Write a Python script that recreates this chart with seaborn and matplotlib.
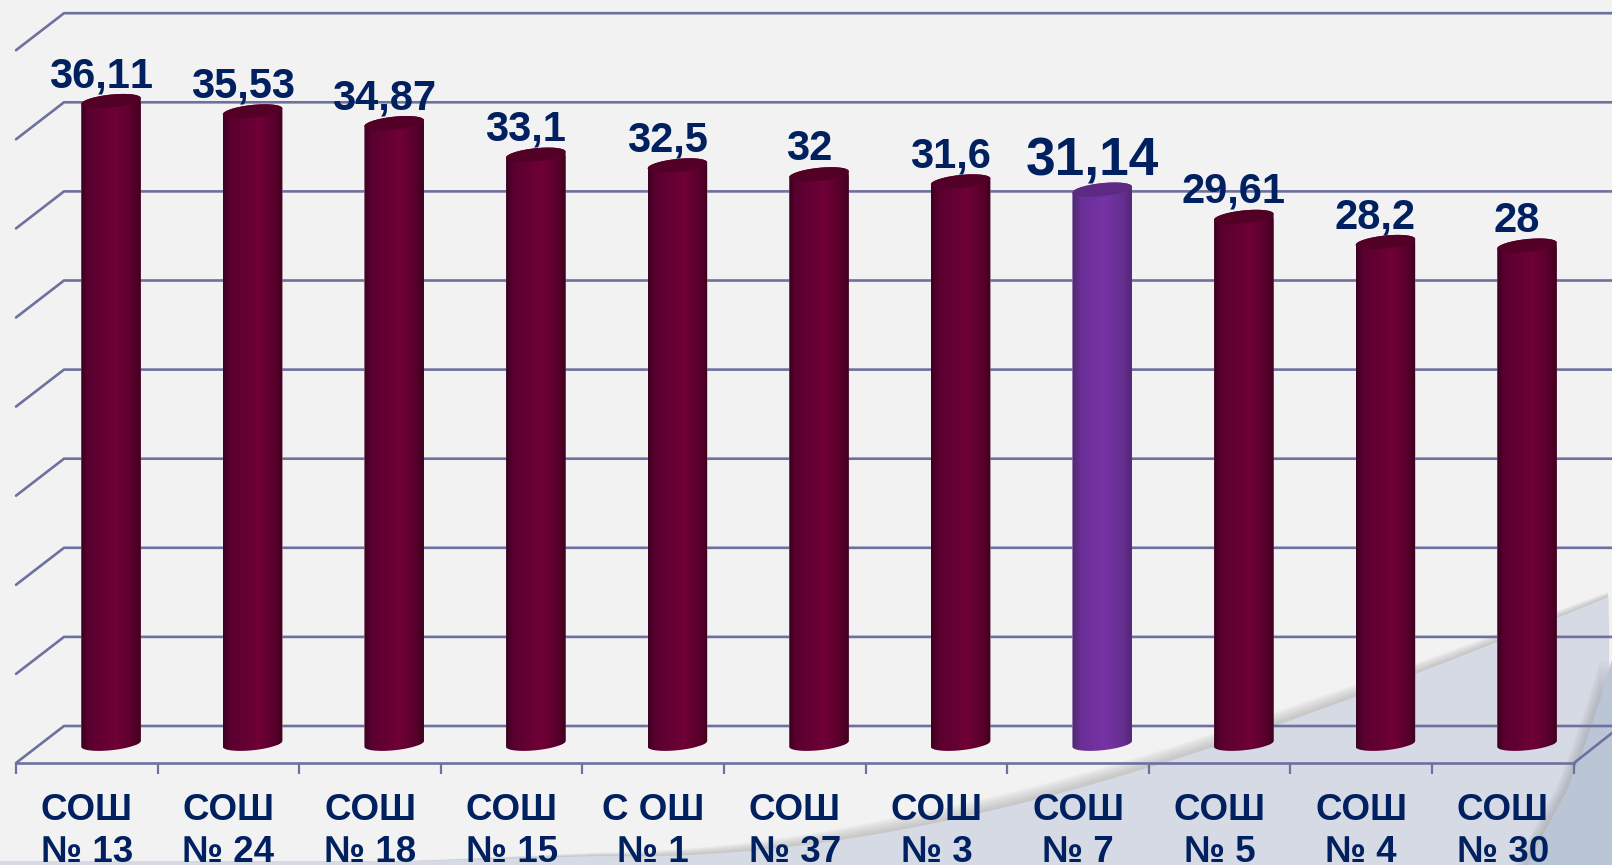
import numpy as np
import pandas as pd
import matplotlib
matplotlib.use("Agg")
import matplotlib.pyplot as plt
import seaborn as sns
from matplotlib.colors import LinearSegmentedColormap
from matplotlib.patches import PathPatch, Polygon
from matplotlib.path import Path

schools = ["СОШ\n№ 13", "СОШ\n№ 24", "СОШ\n№ 18", "СОШ\n№ 15", "С ОШ\n№ 1", "СОШ\n№ 37",
           "СОШ\n№ 3", "СОШ\n№ 7", "СОШ\n№ 5", "СОШ\n№ 4", "СОШ\n№ 30"]
scores = [36.11, 35.53, 34.87, 33.1, 32.5, 32, 31.6, 31.14, 29.61, 28.2, 28]
highlight = "СОШ\n№ 7"
grid_levels = [0, 5, 10, 15, 20, 25, 30, 35, 40]

sns.set_style("white")
plt.rcParams["font.family"] = ["Liberation Sans", "DejaVu Sans"]
plt.rcParams["text.kerning_factor"] = 6

BG = "#f2f2f2"
NAVY = "#002060"
GRID = "#6d719f"

# size of one category / one unit on the picture, in pixels
STEP_X = 141.6
STEP_Y = 17.82
X0 = 111.0
Y0 = 744.6


def px(x, y):
    return (np.asarray(x, dtype=float) - X0) / STEP_X, (Y0 - np.asarray(y, dtype=float)) / STEP_Y


def band(points, color, alpha=1.0, zorder=0):
    pts = np.array(points, dtype=float)
    xd, yd = px(pts[:, 0], pts[:, 1])
    ax.fill(xd, yd, color=color, alpha=alpha, lw=0, zorder=zorder)


fig = plt.figure(figsize=(16.12, 8.65), dpi=100, facecolor=BG)
ax = fig.add_axes([0, 0, 1, 1], facecolor="none")

df = pd.DataFrame({"school": schools, "score": scores})
palette = {s: ("#7632a3" if s == highlight else "#6d0035") for s in schools}
sns.barplot(data=df, x="school", y="score", hue="school", palette=palette, legend=False,
            width=59.6 / STEP_X, saturation=1, ax=ax, zorder=3)
xlim = px([0, 1612], [0, 0])[0]
ylim = px([0, 0], [865, 0])[1]

# background swoosh, smoothed because it is only decoration
edge = np.array([(600, 857), (700, 852), (850, 839), (950, 823), (1050, 793), (1150, 767), (1213, 750),
                 (1279, 723), (1355, 693), (1415, 675), (1495, 645), (1559, 618), (1612, 594)])
coef = np.polyfit(edge[:, 0] / 1000, edge[:, 1], 4)
edge_x = np.r_[0, 400, np.arange(600, 1613, 12.0)]
edge_y = np.where(edge_x < 600, 861.5, np.polyval(coef, edge_x / 1000))
taper = np.clip((edge_x - 500) / 400, 0, 1) * np.clip((1800 - edge_x) / 500, 0, 1)
for k in range(14, 0, -1):
    band(np.r_[np.c_[edge_x, edge_y - k * taper], [[1612, 865], [0, 865]]], "#a0a0a0", 0.045)
band(np.r_[np.c_[edge_x, edge_y], [[1612, 865], [0, 865]]], "#d5dae4")
corner = np.array([(1612, 660), (1600, 700), (1583, 750), (1567, 790), (1547, 827), (1533, 853), (1527, 865),
                   (1612, 865)], dtype=float)
for k in range(12, 0, -1):
    band(corner - [k, 0], "#9a9a9a", 0.05)
band(corner, "#bac6d6")

# back wall + side wall lines
back = [(Y0 - 726) / STEP_Y + lv for lv in grid_levels]
front = [(Y0 - 763) / STEP_Y + lv for lv in grid_levels]
left_x, back_x = px([16, 64], [0, 0])[0]
right_x = px(1612, 0)[0]
for b, f in zip(back, front):
    ax.plot([left_x, back_x, right_x], [f, b, b], color=GRID, lw=1.9, zorder=1, solid_joinstyle="miter")
ax.plot([px(1574, 0)[0], px(1612, 0)[0]], [front[0], px(0, 733)[1]], color=GRID, lw=1.9, zorder=1)

# x axis on the front edge of the floor
tick_pos = [left_x + k for k in range(len(schools) + 1)]
label_pos = [left_x + k + 0.5 for k in range(len(schools))]
sns.despine(ax=ax, left=True, top=True, right=True)
ax.spines["bottom"].set_position(("data", front[0]))
ax.spines["bottom"].set_bounds(tick_pos[0], tick_pos[-1])
ax.spines["bottom"].set_color(GRID)
ax.spines["bottom"].set_linewidth(1.9)
ax.set_yticks([])
ax.set_xticks(tick_pos, labels=[""] * len(tick_pos))
ax.set_xticks(label_pos, labels=schools, minor=True)
ax.tick_params(axis="x", which="major", length=8, width=1.6, color=GRID, bottom=True)
ax.tick_params(axis="x", which="minor", length=0, pad=21.5, labelsize=26.5, labelcolor=NAVY)
for t in ax.get_xticklabels(minor=True):
    t.set_fontweight("bold")
    t.set_linespacing(1.28)
ax.set_xlabel("")
ax.set_ylabel("")


# cylinders
def ring(cx, cy, t):
    a, b, phi = 29.9, 6.5, np.radians(6)
    dx = a * np.cos(t) * np.cos(phi) + b * np.sin(t) * np.sin(phi)
    dy = -a * np.cos(t) * np.sin(phi) + b * np.sin(t) * np.cos(phi)
    return cx + dx / STEP_X, cy - dy / STEP_Y


t0 = np.arctan2(6.5 * np.sin(np.radians(6)), 29.9 * np.cos(np.radians(6)))
lower = np.linspace(t0, t0 + np.pi, 60)
upper = np.linspace(t0 + np.pi, t0 + 2 * np.pi, 60)
full = np.linspace(0, 2 * np.pi, 120)
maroon = LinearSegmentedColormap.from_list("m", [(0, "#3c0020"), (0.12, "#5a0030"), (0.6, "#6f0036"),
                                                 (0.85, "#5a002c"), (1, "#40001f")])
violet = LinearSegmentedColormap.from_list("v", [(0, "#4d2a72"), (0.15, "#6a2f96"), (0.55, "#7733a5"),
                                                 (0.85, "#662f90"), (1, "#522878")])
grad = np.linspace(0, 1, 128).reshape(1, -1)

for i, (bar, s, v) in enumerate(zip(ax.patches, schools, scores)):
    xb, yb = ring(i, 0.05, lower)
    xt, yt = ring(i, v, upper)
    body = PathPatch(Path(np.r_[np.c_[xb, yb], np.c_[xt, yt], [[xb[0], yb[0]]]]), transform=ax.transData)
    bar.set_clip_path(body)
    im = ax.imshow(grad, cmap=violet if s == highlight else maroon, aspect="auto", zorder=3.1,
                   extent=[i - 29.8 / STEP_X, i + 29.8 / STEP_X, -1, v + 1], interpolation="bilinear")
    im.set_clip_path(body)
    xc, yc = ring(i, v, full)
    ax.add_patch(Polygon(np.c_[xc, yc], closed=True, lw=0, zorder=3.2,
                         facecolor="#5c2a82" if s == highlight else "#530027"))
    big = s == highlight
    ax.text(i - 10 / STEP_X, v + 14 / STEP_Y, str(v).replace(".", ","), ha="center", va="baseline",
            color=NAVY, fontweight="bold", fontsize=38.3 if big else 30, zorder=4)

ax.set_xlim(*xlim)
ax.set_ylim(*ylim)
fig.savefig("out.png", dpi=100, facecolor=BG)
